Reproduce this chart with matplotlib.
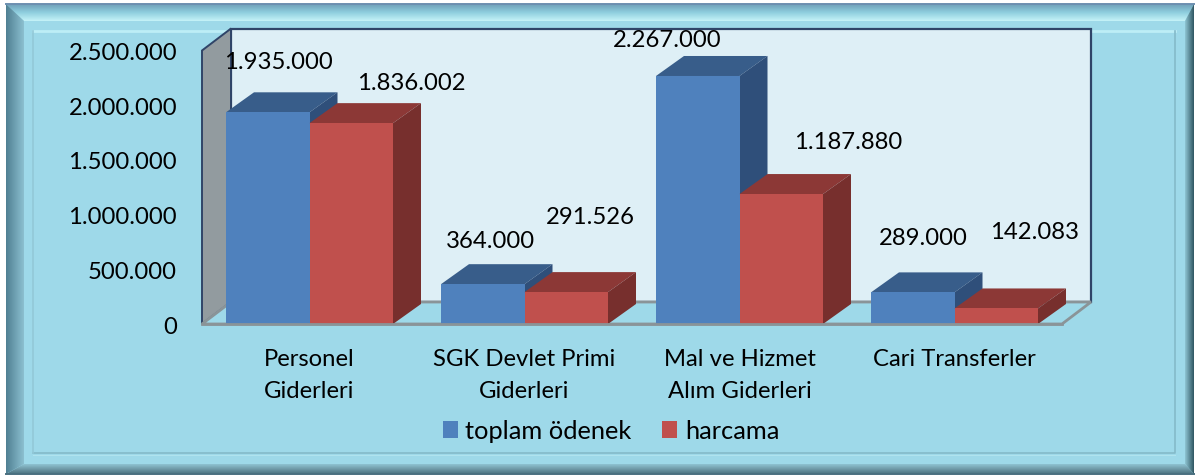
import numpy as np
import matplotlib
matplotlib.use('Agg')
import matplotlib.pyplot as plt
from matplotlib.colors import LinearSegmentedColormap
from matplotlib.patches import Polygon, Rectangle

categories = ['Personel\nGiderleri', 'SGK Devlet Primi\nGiderleri',
              'Mal ve Hizmet\nAlım Giderleri', 'Cari Transferler']
toplam_odenek = [1935000, 364000, 2267000, 289000]
harcama = [1836002, 291526, 1187880, 142083]
y_ticks = [0, 500000, 1000000, 1500000, 2000000, 2500000]
series_names = ['toplam ödenek', 'harcama']

W, H = 1198, 477
plt.rcParams['font.family'] = ['Lato', 'DejaVu Sans']
FS = 17.2


def fmt(v):
    return f'{v:,}'.replace(',', '.')


def gradient(ax, pts, colors, vertical=True):
    # fill polygon pts with a linear gradient
    pts = np.array(pts, dtype=float)
    cmap = LinearSegmentedColormap.from_list('g', colors)
    g = np.linspace(0, 1, 256)
    g = g[:, None] if vertical else g[None, :]
    x0, x1, y0, y1 = pts[:, 0].min(), pts[:, 0].max(), pts[:, 1].min(), pts[:, 1].max()
    im = ax.imshow(g, cmap=cmap, extent=(x0, x1, y1, y0), aspect='auto', zorder=1,
                   interpolation='bilinear')
    poly = Polygon(pts, closed=True, transform=ax.transData, fc='none', ec='none')
    ax.add_patch(poly)
    im.set_clip_path(poly)


fig = plt.figure(figsize=(W / 100, H / 100), dpi=100, facecolor='white')

# background frame, in pixel coordinates
bg = fig.add_axes([0, 0, 1, 1])
bg.set_xlim(0, W)
bg.set_ylim(H, 0)
bg.axis('off')

L, T, R, B = 6, 5, 1194, 475
iL, iT, iR, iB = 24, 22, 1185, 465
base = '#9ed9e9'
bg.add_patch(Rectangle((L, T), R - L, B - T, fc=base, ec='none', zorder=0))
gradient(bg, [(L, T), (R, T), (iR, iT), (iL, iT)], ['#6f9fb8', '#8fcfdf', '#c6f3f8'])
gradient(bg, [(L, B), (R, B), (iR, iB), (iL, iB)], ['#8fc4d3', '#6f9aa8', '#4a7180'])
gradient(bg, [(L, T), (iL, iT), (iL, iB), (L, B)], ['#4f7f92', '#8cc0d0'], vertical=False)
gradient(bg, [(R, T), (iR, iT), (iR, iB), (R, B)], ['#8fc6d4', '#2f5561'], vertical=False)
bg.plot([L, R], [T, T], color='#6d8fb0', lw=1.4, zorder=2)
bg.plot([L, R], [B, B], color='#4a7080', lw=1.4, zorder=2)
# inner groove
bg.plot([33, 1175], [31.5, 31.5], color='#bdeef6', lw=2, zorder=2)
bg.plot([1175, 1175, 33], [32, 454, 454], color='#84bac9', lw=1.2, zorder=2)
bg.plot([32.5, 32.5], [32, 454], color='#93c9d8', lw=1.2, zorder=2)
bg.plot([33, 1175], [456, 456], color='#b0e3ee', lw=0.8, zorder=2)

# chart axes: front plane of the 3D box
px_left, px_right, px_top, px_bot = 202, 1062, 51.5, 325
ax = fig.add_axes([px_left / W, 1 - px_bot / H, (px_right - px_left) / W, (px_bot - px_top) / H])
ax.patch.set_alpha(0)
ax.set_xlim(-0.5, 3.5)
ax.set_ylim(0, 2500000)
for s in ax.spines.values():
    s.set_visible(False)
ax.set_xticks(range(len(categories)))
ax.set_xticklabels(categories, fontsize=FS, linespacing=1.65, color='black')
ax.set_yticks(y_ticks)
ax.set_yticklabels([fmt(v) for v in y_ticks], fontsize=FS, color='black')
ax.tick_params(axis='both', length=0)
ax.tick_params(axis='x', pad=17.5)
ax.tick_params(axis='y', pad=18)

ux = (px_right - px_left) / 4.0  # pixels per category
uy = (px_bot - px_top) / 2500000.0  # pixels per value
dx = 28 / ux
dy = 20 / uy
wall_dx, wall_dy = 29 / ux, 22 / uy
xa, xb = -0.5, 3.5
top = 2500000

# walls and floor
ax.add_patch(Polygon([(xa + wall_dx, top + wall_dy), (xb + wall_dx, top + wall_dy),
                      (xb + wall_dx, wall_dy), (xa + wall_dx, wall_dy)],
                     fc='#deeff6', ec='#2f4468', lw=1.6, clip_on=False, zorder=1))
ax.add_patch(Polygon([(xa, top), (xa + wall_dx, top + wall_dy),
                      (xa + wall_dx, wall_dy), (xa, 0)],
                     fc='#929b9f', ec='#2f4468', lw=1.4, clip_on=False, zorder=1.5))
ax.add_patch(Polygon([(xa, 0), (xb, 0), (xb + wall_dx, wall_dy), (xa + wall_dx, wall_dy)],
                     fc='#9ed9e9', ec='#8a9498', lw=2, clip_on=False, zorder=2))

bw = 83.5 / ux
colors = [('#4f81bd', '#385d8a', '#2f4f7a'), ('#c0504d', '#8c3836', '#772f2d')]
xs = np.arange(len(categories))
for k, vals in enumerate([toplam_odenek, harcama]):
    front, tp, side = colors[k]
    off = (k - 1) * bw
    for x, v in zip(xs, vals):
        x0, x1 = x + off, x + off + bw
        z = 3 + x + k * 0.1
        ax.bar(x0, v, width=bw, align='edge', color=front, zorder=z + 0.05, clip_on=False)
        ax.add_patch(Polygon([(x0, v), (x0 + dx, v + dy), (x1 + dx, v + dy), (x1, v)],
                             fc=tp, ec='none', clip_on=False, zorder=z))
        ax.add_patch(Polygon([(x1, 0), (x1, v), (x1 + dx, v + dy), (x1 + dx, dy)],
                             fc=side, ec='none', clip_on=False, zorder=z))
# front floor edge stays on top of the bar feet
ax.plot([xa, xb], [0, 0], color='#8a9498', lw=2, clip_on=False, zorder=15)

# data labels, pixel offsets from the front top centre of each bar
label_off = [[(11, 51), (60, 41)], [(8, 44), (24, 76)], [(-31, 36), (67, 53)], [(11, 55), (38, 77)]]
for i, x in enumerate(xs):
    for k, vals in enumerate([toplam_odenek, harcama]):
        v = vals[i]
        ox, oy = label_off[i][k]
        ax.annotate(fmt(v), xy=(x + (k - 0.5) * bw, v), xytext=(ox * 0.72, oy * 0.72),
                    textcoords='offset points', ha='center', va='center',
                    fontsize=FS, color='black', zorder=20, annotation_clip=False)

# legend drawn from real handles
handles = [Rectangle((0, 0), 1, 1, fc=colors[i][0]) for i in range(2)]
leg = fig.legend(handles, series_names, loc='center', bbox_to_anchor=(611 / W, 1 - 432 / H),
                 ncol=2, frameon=False, fontsize=FS + 1.1, handlelength=0.6, handleheight=0.6,
                 handletextpad=0.3, columnspacing=1.2, borderpad=0)

fig.savefig('out.png', dpi=100, facecolor='white')
